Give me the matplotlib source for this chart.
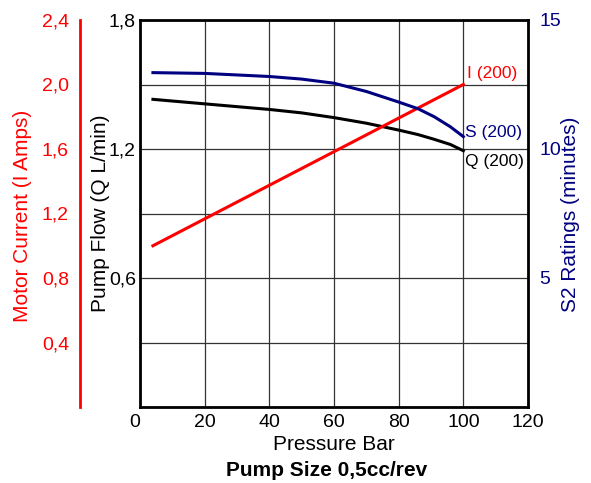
# Pump performance chart - pump size 0,5cc/rev
import matplotlib
matplotlib.use("Agg")
import matplotlib.pyplot as plt

plt.rcParams["font.family"] = ["Liberation Sans", "DejaVu Sans"]

# Data
pressure = [4, 20, 40, 50, 60, 70, 80, 86, 91, 96, 100]
flow_q = [1.431, 1.410, 1.384, 1.368, 1.346, 1.320, 1.288, 1.267, 1.245,
          1.221, 1.192]                                          # L/min
s2_rating = [12.96, 12.93, 12.81, 12.71, 12.55, 12.23, 11.82, 11.56, 11.25,
             10.86, 10.48]                                       # minutes
current_p = [4, 100]
current_i = [1.0, 2.0]                                           # Amps

x_ticks = [0, 20, 40, 60, 80, 100, 120]
flow_labels = ["", "", "0,6", "", "1,2", "", "1,8"]
current_ticks = [0.4, 0.8, 1.2, 1.6, 2.0, 2.4]
current_labels = ["0,4", "0,8", "1,2", "1,6", "2,0", "2,4"]
s2_ticks = [5, 10, 15]

red = "#ff0000"
navy = "#000080"

fig = plt.figure(figsize=(5.91, 4.83), dpi=100)
ax = fig.add_axes([140 / 591, 1 - 407 / 483, 388 / 591, 387 / 483])

# main axis: pump flow
ax.set_xlim(0, 120)
ax.set_ylim(0, 1.8)
ax.set_xticks(x_ticks)
ax.set_xticklabels([str(v) for v in x_ticks])
ax.get_xticklabels()[0].set_horizontalalignment("right")
ax.set_yticks([0.3 * k for k in range(7)])
ax.set_yticklabels(flow_labels)
ax.tick_params(axis="both", length=0, labelsize=14)
ax.tick_params(axis="x", pad=5)
ax.tick_params(axis="y", pad=3)
ax.grid(True, color="#333333", linewidth=0.9)
ax.set_axisbelow(True)
for sp in ax.spines.values():
    sp.set_linewidth(2)
    sp.set_color("black")
ax.plot(pressure, flow_q, color="black", linewidth=2.2, zorder=3)

# motor current axis, far left in red
ax_i = ax.twinx()
ax_i.set_ylim(0, 2.4)
ax_i.yaxis.set_ticks_position("left")
ax_i.spines["left"].set_position(("axes", -60 / 388))
for name, sp in ax_i.spines.items():
    sp.set_visible(name == "left")
ax_i.spines["left"].set_color(red)
ax_i.spines["left"].set_linewidth(2)
ax_i.set_yticks(current_ticks)
ax_i.set_yticklabels(current_labels)
ax_i.tick_params(axis="y", length=0, pad=8, labelsize=14, colors=red)
ax_i.plot(current_p, current_i, color=red, linewidth=2.2)

# S2 rating axis, right in navy
ax_s = ax.twinx()
ax_s.set_ylim(0, 15)
for sp in ax_s.spines.values():
    sp.set_visible(False)
ax_s.set_yticks(s2_ticks)
ax_s.set_yticklabels([str(v) for v in s2_ticks])
ax_s.tick_params(axis="y", length=0, pad=8, labelsize=14, colors=navy)
ax_s.plot(pressure, s2_rating, color=navy, linewidth=2.2)

# curve labels
ax_i.annotate("I (200)", (current_p[-1], current_i[-1]), xytext=(3, 8),
              textcoords="offset points", color=red, fontsize=12.5,
              ha="left", va="center")
ax_s.annotate("S (200)", (pressure[-1], s2_rating[-1]), xytext=(1, 3),
              textcoords="offset points", color=navy, fontsize=12.5,
              ha="left", va="center")
ax.annotate("Q (200)", (pressure[-1], flow_q[-1]), xytext=(1, -8),
            textcoords="offset points", color="black", fontsize=12.5,
            ha="left", va="center")

# axis titles
fig.text(23 / 591, 1 - 216 / 483, "Motor Current (I Amps)", rotation=90,
         color=red, fontsize=15, ha="center", va="center")
fig.text(101 / 591, 1 - 213 / 483, "Pump Flow (Q L/min)", rotation=90,
         color="black", fontsize=15, ha="center", va="center")
fig.text(571 / 591, 1 - 214 / 483, "S2 Ratings (minutes)", rotation=90,
         color=navy, fontsize=15, ha="center", va="center")
fig.text(334 / 591, 1 - 444 / 483, "Pressure Bar", fontsize=15,
         ha="center", va="center")
fig.text(327 / 591, 1 - 470 / 483, "Pump Size 0,5cc/rev", fontsize=15,
         fontweight="bold", ha="center", va="center")

fig.savefig("out.png", dpi=100)
